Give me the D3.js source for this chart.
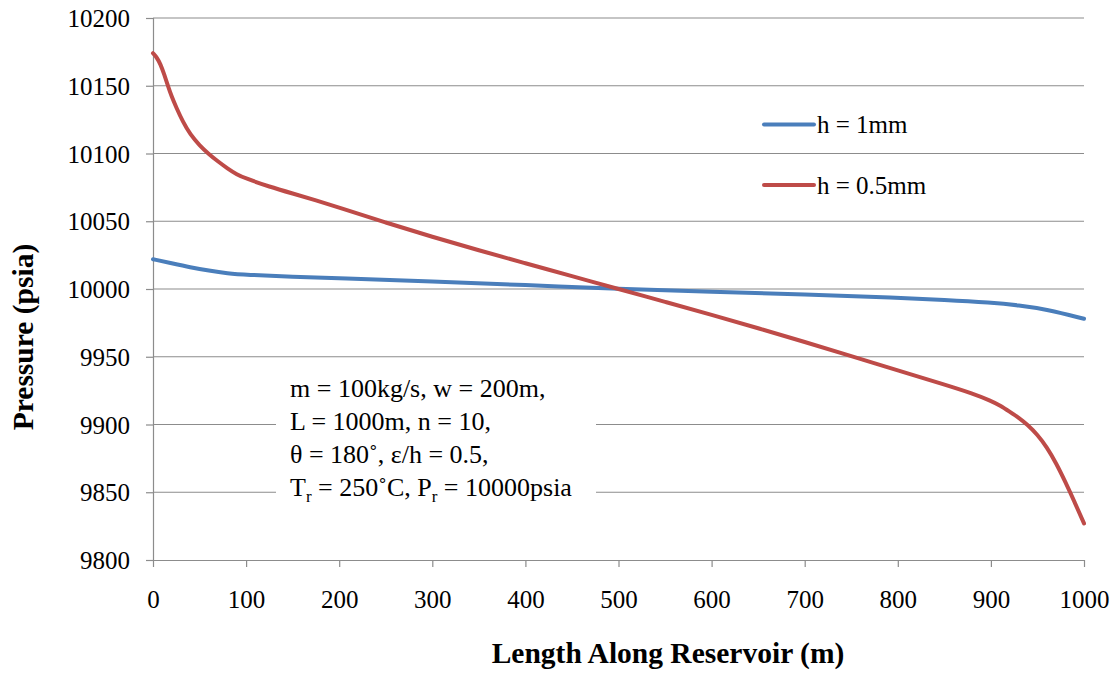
<!DOCTYPE html>
<html><head><meta charset="utf-8">
<script src="https://cdnjs.cloudflare.com/ajax/libs/d3/7.8.5/d3.min.js"></script>
<style>body{margin:0;background:#fff}svg{display:block}svg text{font-family:'Liberation Serif','Times New Roman',serif}</style>
</head><body><svg id="c" width="1116" height="675" font-family="Liberation Serif, Times New Roman, serif"></svg>
<script>
const xTicks = [0,100,200,300,400,500,600,700,800,900,1000];
const yTicks = [9800,9850,9900,9950,10000,10050,10100,10150,10200];
const seriesNames = ["h = 1mm","h = 0.5mm"];
const seriesColors = ["#4a7ebb","#be4b48"];
const blueX = [0,20,40,60,80,100,150,200,300,400,500,600,700,800,850,900,930,960,1000];
const blueY = [10022,10019,10016,10013.5,10011.5,10010.5,10009,10008,10005.5,10003,10000,9998,9996,9993.5,9992,9990,9988,9985,9978];
const redX = [0,4,8,12,16,20,25,32,40,50,60,70,80,90,100,125,150,175,200,250,300,350,400,450,500,550,600,650,700,750,800,850,880,900,910,920,930,939,950,960,970,980,990,1000];
const redY = [10174,10171,10166,10158.5,10150,10142,10134,10123.5,10114,10106,10099.5,10094,10089,10084.5,10081.5,10075.5,10070.5,10065.5,10060,10049,10038.5,10028.5,10019,10009.5,10000,9990.5,9981,9971,9961,9950.5,9940,9929.5,9923,9917.5,9914,9909.5,9905,9900,9892.5,9883.3,9871.6,9857.6,9842.6,9827];
const annotation = ["m = 100kg/s, w = 200m,","L = 1000m, n = 10,","θ = 180˚, ε/h = 0.5,"];
const FF = "Liberation Serif, Times New Roman, serif";

const svg = d3.select("#c");
const x = d3.scaleLinear().domain([0,1000]).range([153,1084]);
const y = d3.scaleLinear().domain([9800,10200]).range([560,18]);
const grid = "#8c8c8c";

// gridlines
svg.append("g").selectAll("line").data(yTicks.filter(d=>d!==9800)).join("line")
  .attr("x1",x(0)).attr("x2",x(1000)).attr("y1",d=>y(d)).attr("y2",d=>y(d))
  .attr("stroke",grid).attr("stroke-width",1.2);

// axes
const yAx = svg.append("g").attr("transform",`translate(${x(0)},0)`)
  .call(d3.axisLeft(y).tickValues(yTicks).tickSize(7).tickPadding(16).tickFormat(d3.format("d")));
const xAx = svg.append("g").attr("transform",`translate(0,${y(9800)})`)
  .call(d3.axisBottom(x).tickValues(xTicks).tickSize(7).tickPadding(20).tickFormat(d3.format("d")));
[yAx,xAx].forEach(g=>{
  g.attr("font-family",FF).attr("font-size",25);
  g.select(".domain").attr("stroke",grid).attr("stroke-width",1.2);
  g.selectAll(".tick line").attr("stroke",grid).attr("stroke-width",1.2);
  g.selectAll(".tick text").attr("font-family",FF).attr("font-size",25).attr("fill","#000");
});
yAx.selectAll(".tick text").attr("dy","0.34em");
xAx.select(".domain").attr("d",`M${x(0)-7},0.5H${x(1000)}`);
xAx.selectAll(".tick text").attr("y",48).attr("dy",0);

// annotation box
svg.append("rect").attr("x",276).attr("y",366).attr("width",320).attr("height",144).attr("fill","#fff");
const ann = svg.append("g").attr("font-family",FF).attr("font-size",26);
annotation.forEach((t,i)=>{
  ann.append("text").attr("x",290).attr("y",397+i*33).text(t);
});
const last = ann.append("text").attr("x",290).attr("y",397+3*33);
last.append("tspan").text("T");
last.append("tspan").attr("dy",6).attr("font-size",17).text("r");
last.append("tspan").attr("dy",-6).text(" = 250˚C, P");
last.append("tspan").attr("dy",6).attr("font-size",17).text("r");
last.append("tspan").attr("dy",-6).text(" = 10000psia");

// lines
const line = d3.line().x(d=>x(d[0])).y(d=>y(d[1])).curve(d3.curveBasis);
const series = [d3.zip(blueX,blueY), d3.zip(redX,redY)];
svg.append("g").selectAll("path").data(series).join("path")
  .attr("d",line).attr("fill","none").attr("stroke",(d,i)=>seriesColors[i])
  .attr("stroke-width",4).attr("stroke-linecap","round").attr("stroke-linejoin","round");

// legend
const lg = svg.append("g").selectAll("g").data(seriesNames).join("g")
  .attr("transform",(d,i)=>`translate(764,${124.5+i*60.5})`);
lg.append("line").attr("x1",0).attr("x2",50).attr("stroke",(d,i)=>seriesColors[i]).attr("stroke-width",4).attr("stroke-linecap","round");
lg.append("text").attr("x",53).attr("dy","0.34em").attr("font-family",FF).attr("font-size",25).text(d=>d);

// axis titles
svg.append("text").attr("x",668).attr("y",663).attr("text-anchor","middle").attr("font-family",FF)
  .attr("font-size",29.5).attr("font-weight","bold").text("Length Along Reservoir (m)");
svg.append("text").attr("transform","translate(33,337) rotate(-90)").attr("text-anchor","middle").attr("font-family",FF)
  .attr("font-size",29.5).attr("font-weight","bold").text("Pressure (psia)");
</script></body></html>
